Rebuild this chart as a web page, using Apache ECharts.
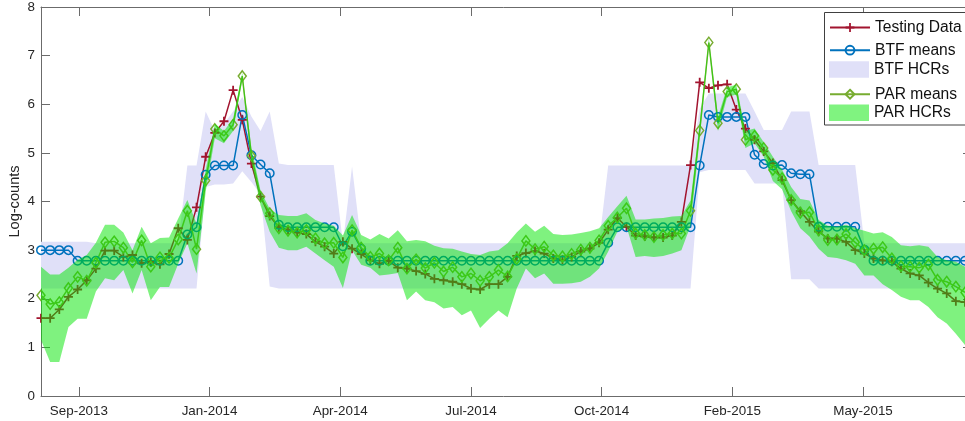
<!DOCTYPE html>
<html>
<head>
<meta charset="utf-8">
<script src="https://cdn.jsdelivr.net/npm/echarts@6/dist/echarts.min.js"></script>
<style>
html,body{margin:0;padding:0;background:#fff;}
#chart{width:965px;height:421px;}
</style>
</head>
<body>
<div id="chart"></div>
<script>
// ---- Data (weekly log-counts) ----
const firstWeek = '2013-08-25';
const weekCount = 102;

// tick positions in days after the first week, and their labels
const tickDays   = [29, 129, 229, 329, 429, 529, 629];
const tickLabels = ['Sep-2013','Jan-2014','Apr-2014','Jul-2014','Oct-2014','Feb-2015','May-2015'];

const testingData = [
1.60,1.60,1.78,2.04,2.19,2.38,2.62,2.99,2.99,2.86,
2.90,2.73,2.76,2.71,2.92,3.45,3.21,3.88,4.92,5.41,
5.65,6.29,5.68,4.78,4.10,3.70,3.47,3.42,3.36,3.33,
3.17,3.07,2.93,3.17,3.03,2.92,2.79,2.72,2.78,2.64,
2.62,2.57,2.51,2.41,2.38,2.35,2.30,2.21,2.19,2.30,
2.30,2.45,2.88,2.94,2.98,2.93,2.83,2.80,2.86,2.97,
3.03,3.15,3.42,3.66,3.48,3.30,3.28,3.26,3.26,3.30,
3.58,4.75,6.45,6.33,6.39,6.41,5.89,5.50,5.27,5.03,
4.79,4.44,4.03,3.80,3.58,3.38,3.24,3.24,3.17,3.00,
2.93,2.83,2.79,2.76,2.62,2.52,2.48,2.33,2.21,2.11,
1.95,1.93];

const btfMeans = [
3.00,3.00,3.00,3.00,2.78,2.78,2.78,2.78,2.78,2.78,
2.78,2.78,2.78,2.78,2.78,2.78,3.32,3.47,4.55,4.74,
4.74,4.74,5.78,4.95,4.76,4.58,3.52,3.47,3.47,3.47,
3.47,3.47,3.47,3.08,3.38,3.03,2.78,2.78,2.78,2.78,
2.78,2.78,2.78,2.78,2.78,2.78,2.78,2.78,2.78,2.78,
2.78,2.78,2.78,2.78,2.78,2.78,2.78,2.78,2.78,2.78,
2.78,2.78,3.15,3.47,3.47,3.47,3.47,3.47,3.47,3.47,
3.47,3.47,4.74,5.78,5.74,5.74,5.74,5.74,4.96,4.77,
4.74,4.75,4.58,4.56,4.56,3.48,3.48,3.48,3.48,3.48,
3.01,2.78,2.78,2.78,2.78,2.78,2.78,2.78,2.78,2.78,
2.78,2.78];

const btfLow = [
2.21,2.21,2.21,2.21,2.21,2.21,2.21,2.21,2.21,2.21,
2.21,2.21,2.21,2.21,2.21,2.21,2.21,2.21,4.30,4.35,
4.35,4.37,4.62,4.40,4.15,2.25,2.21,2.21,2.21,2.21,
2.21,2.21,2.21,2.21,2.21,2.21,2.21,2.21,2.21,2.21,
2.21,2.21,2.21,2.21,2.21,2.21,2.21,2.21,2.21,2.21,
2.21,2.21,2.21,2.21,2.21,2.21,2.21,2.21,2.21,2.21,
2.21,2.21,2.21,2.21,2.21,2.21,2.21,2.21,2.21,2.21,
2.21,2.21,4.60,4.65,4.65,4.65,4.65,4.65,4.37,4.37,
4.37,4.37,2.40,2.40,2.40,2.21,2.21,2.21,2.21,2.21,
2.21,2.21,2.21,2.21,2.21,2.21,2.21,2.21,2.21,2.21,
2.21,2.21];

const btfHigh = [
3.17,3.17,3.17,3.17,3.17,3.17,3.14,3.14,3.14,3.14,
3.14,3.14,3.14,3.14,3.14,3.14,4.74,4.74,5.85,5.45,
5.60,5.85,6.15,5.75,5.45,5.85,4.78,4.75,4.75,4.75,
4.75,4.75,4.75,3.14,4.72,3.14,3.14,3.14,3.14,3.14,
3.14,3.14,3.14,3.14,3.14,3.14,3.14,3.14,3.14,3.14,
3.14,3.14,3.14,3.14,3.14,3.14,3.14,3.14,3.14,3.14,
3.14,3.14,4.74,4.74,4.74,4.74,4.74,4.74,4.74,4.74,
4.74,4.74,5.90,6.22,6.22,6.22,6.22,6.22,5.85,5.47,
5.47,5.47,5.85,5.85,5.85,4.75,4.75,4.75,4.75,4.75,
3.14,3.14,3.14,3.14,3.14,3.14,3.14,3.14,3.14,3.14,
3.14,3.14];

const parMeans = [
2.07,1.89,1.93,2.22,2.45,2.37,2.74,3.16,3.18,3.05,
2.75,3.20,2.66,2.85,2.84,3.22,3.81,3.02,4.43,5.49,
5.35,5.58,6.58,4.94,4.10,3.76,3.45,3.40,3.36,3.41,
3.24,3.14,3.15,2.85,3.41,3.05,2.86,2.93,2.79,3.05,
2.62,2.81,2.63,2.74,2.56,2.65,2.45,2.52,2.37,2.45,
2.59,2.46,2.82,3.19,3.02,3.07,2.89,2.87,2.92,3.01,
3.05,3.20,3.50,3.67,3.86,3.34,3.31,3.27,3.31,3.34,
3.34,3.81,5.46,7.27,5.61,6.26,6.31,5.27,5.35,5.10,
4.65,4.48,4.03,3.77,3.78,3.41,3.21,3.22,3.33,3.16,
3.00,3.03,3.06,2.83,2.67,2.66,2.64,2.70,2.39,2.35,
2.25,2.13];

const parLow = [
1.15,0.70,0.70,1.42,1.59,1.59,2.15,2.42,2.38,2.59,
2.11,2.59,1.97,2.24,2.24,2.72,3.14,2.52,4.20,5.30,
5.20,5.45,6.50,4.80,3.92,3.38,3.05,3.00,3.00,3.07,
2.93,2.79,2.66,2.22,3.00,2.70,2.64,2.48,2.50,2.53,
1.97,2.15,1.97,1.93,1.80,1.83,1.66,1.76,1.40,1.59,
1.76,1.62,2.21,2.62,2.42,2.52,2.31,2.31,2.32,2.35,
2.45,2.62,2.97,3.38,3.48,2.86,2.88,2.86,2.88,2.93,
3.00,3.50,5.30,7.18,5.45,6.15,6.20,5.10,5.20,4.92,
4.42,4.25,3.80,3.45,3.28,3.03,2.86,2.84,2.79,2.72,
2.48,2.48,2.30,2.18,2.04,1.97,1.97,1.83,1.62,1.49,
1.28,1.05];

const parHigh = [
2.66,2.50,2.50,2.64,2.80,2.90,3.15,3.52,3.52,3.36,
3.00,3.48,3.14,3.25,3.26,3.65,4.03,3.55,4.65,5.60,
5.45,5.70,6.65,5.10,4.22,3.85,3.72,3.70,3.70,3.76,
3.62,3.55,3.50,3.30,3.72,3.31,3.22,3.33,3.24,3.41,
3.18,3.21,3.18,3.09,3.04,3.03,2.97,2.92,2.90,2.97,
3.00,3.14,3.36,3.55,3.38,3.50,3.33,3.31,3.32,3.35,
3.39,3.45,3.68,3.90,4.12,3.63,3.63,3.65,3.66,3.69,
3.70,4.02,5.60,7.35,5.75,6.35,6.40,5.45,5.50,5.22,
4.92,4.66,4.30,4.05,4.02,3.62,3.50,3.48,3.52,3.45,
3.40,3.34,3.37,3.27,3.10,3.08,3.10,3.07,2.86,2.79,
2.76,2.66];

// ---- helpers ----
const DAY = 86400000;
function utc(s){ const p = s.split('-').map(Number); return Date.UTC(p[0], p[1]-1, p[2]); }
const t0 = utc(firstWeek);
const weeks = Array.from({length: weekCount}, (_, i) => new Date(t0 + i * 7 * DAY).toISOString().slice(0, 10));
const spans = (hi, lo) => hi.map((v, i) => +(v - lo[i]).toFixed(4));

const FONT = "'Liberation Sans', Arial, Helvetica, sans-serif";
const AXIS = '#6b6b6b';
const TXT = '#262626';
const RED = '#A2142F', BLUE = '#0072BD', OLIVE = '#77AC30';
const LAV = '#E0E0F8', GREEN_A = 'rgba(0,230,0,0.5)', GREEN_L = '#80F380';
const PLUS = 'path://M4,0H6V4H10V6H6V10H4V6H0V4H4Z';

function labelFor(v){
  for (let k = 0; k < tickDays.length; k++) {
    if (Math.abs(tickDays[k] - v) < 0.5) return tickLabels[k];
  }
  return '';
}

const lastDay = (weekCount - 1) * 7;
const frameMaxDay = lastDay + 5.4;   // axis box extends a little past the last week
const frameX = {
  type: 'value', gridIndex: 1, min: 0, max: frameMaxDay,
  axisLine: {show: true, onZero: false, lineStyle: {color: AXIS, width: 1}},
  axisTick: {show: true, inside: true, length: 9, customValues: tickDays, lineStyle: {color: AXIS}},
  splitLine: {show: false}, minorTick: {show: false}
};
const frameY = {
  type: 'value', gridIndex: 1, min: 0, max: 8, interval: 1,
  axisLine: {show: true, onZero: false, lineStyle: {color: AXIS, width: 1}},
  axisTick: {show: true, inside: true, length: 9, lineStyle: {color: AXIS}},
  splitLine: {show: false}
};

const chart = echarts.init(document.getElementById('chart'), null, {renderer: 'canvas'});
const legendCommon = {
  orient: 'vertical', left: 829, padding: 0, itemWidth: 40, selectedMode: false, z: 6,
  textStyle: {fontSize: 15.6, color: '#111', fontFamily: FONT}
};
chart.setOption({
  animation: false,
  backgroundColor: '#fff',
  textStyle: {fontFamily: FONT},
  grid: [
    {left: 41, top: 7, right: 0, bottom: 25, containLabel: false, outerBoundsMode: 'none'},
    {left: 41, top: 7, right: -7, bottom: 25, containLabel: false, outerBoundsMode: 'none'}
  ],
  xAxis: [
    {type: 'category', gridIndex: 0, data: weeks, boundaryGap: false, show: false},
    Object.assign({}, frameX, {position: 'bottom',
      axisLabel: {show: true, customValues: tickDays, formatter: v => labelFor(v),
        fontSize: 13.4, color: TXT, margin: 9, fontFamily: FONT, hideOverlap: false}}),
    Object.assign({}, frameX, {position: 'top', axisLabel: {show: false}})
  ],
  yAxis: [
    {type: 'value', gridIndex: 0, min: 0, max: 8, show: false, splitLine: {show: false}},
    Object.assign({}, frameY, {position: 'left',
      axisLabel: {show: true, fontSize: 13.4, color: TXT, margin: 6, fontFamily: FONT},
      name: 'Log-counts', nameLocation: 'middle', nameGap: 19, nameMoveOverlap: false,
      nameTextStyle: {fontSize: 14.6, color: TXT, fontFamily: FONT}}),
    Object.assign({}, frameY, {position: 'right', axisLabel: {show: false}})
  ],
  legend: [
    Object.assign({}, legendCommon, {top: 25 - 5.5, itemHeight: 11, data: [{name: 'Testing Data'}]}),
    Object.assign({}, legendCommon, {top: 47.7 - 5.5, itemHeight: 11, data: [{name: 'BTF means'}]}),
    Object.assign({}, legendCommon, {top: 69.5 - 8.25, itemHeight: 16.5, data: [{name: 'BTF HCRs', icon: 'rect', itemStyle: {color: LAV}}]}),
    Object.assign({}, legendCommon, {top: 91.7 - 5.5, itemHeight: 11, data: [{name: 'PAR means'}]}),
    Object.assign({}, legendCommon, {top: 112.8 - 8.25, itemHeight: 16.5, data: [{name: 'PAR HCRs', icon: 'rect', itemStyle: {color: GREEN_L}}]})
  ],
  graphic: {elements: [{
    type: 'rect', silent: true, z: 5,
    shape: {x: 824.5, y: 12.5, width: 200, height: 112.5},
    style: {fill: '#fff', stroke: '#404040', lineWidth: 1}
  }]},
  series: [
    {name: 'Testing Data', type: 'line', data: testingData, z: 2, silent: true,
      symbol: PLUS, symbolSize: 9, showAllSymbol: true,
      itemStyle: {color: RED}, lineStyle: {color: RED, width: 1.5}, emphasis: {disabled: true}},
    {name: 'BTF means', type: 'line', data: btfMeans, z: 2, silent: true,
      symbol: 'circle', symbolSize: 8.5, showAllSymbol: true,
      itemStyle: {color: 'rgba(0,0,0,0)', borderColor: BLUE, borderWidth: 1.5},
      lineStyle: {color: BLUE, width: 1.5}, emphasis: {disabled: true}},
    {name: 'btfLowBase', type: 'line', stack: 'btf', data: btfLow, z: 1, silent: true,
      symbol: 'none', lineStyle: {opacity: 0, width: 0}, emphasis: {disabled: true}},
    {name: 'BTF HCRs', type: 'line', stack: 'btf', data: spans(btfHigh, btfLow), z: 1, silent: true,
      symbol: 'none', itemStyle: {color: LAV}, lineStyle: {opacity: 0, width: 0},
      areaStyle: {color: LAV, opacity: 1}, emphasis: {disabled: true}},
    {name: 'PAR means', type: 'line', data: parMeans, z: 2, silent: true,
      symbol: 'diamond', symbolSize: [8, 10.5], showAllSymbol: true,
      itemStyle: {color: 'rgba(0,0,0,0)', borderColor: OLIVE, borderWidth: 1.5},
      lineStyle: {color: OLIVE, width: 1.5}, emphasis: {disabled: true}},
    {name: 'parLowBase', type: 'line', stack: 'par', data: parLow, z: 3, silent: true,
      symbol: 'none', lineStyle: {opacity: 0, width: 0}, emphasis: {disabled: true}},
    {name: 'PAR HCRs', type: 'line', stack: 'par', data: spans(parHigh, parLow), z: 3, silent: true,
      symbol: 'none', itemStyle: {color: GREEN_L}, lineStyle: {opacity: 0, width: 0},
      areaStyle: {color: GREEN_A, opacity: 1}, emphasis: {disabled: true}}
  ]
});
</script>
</body>
</html>
